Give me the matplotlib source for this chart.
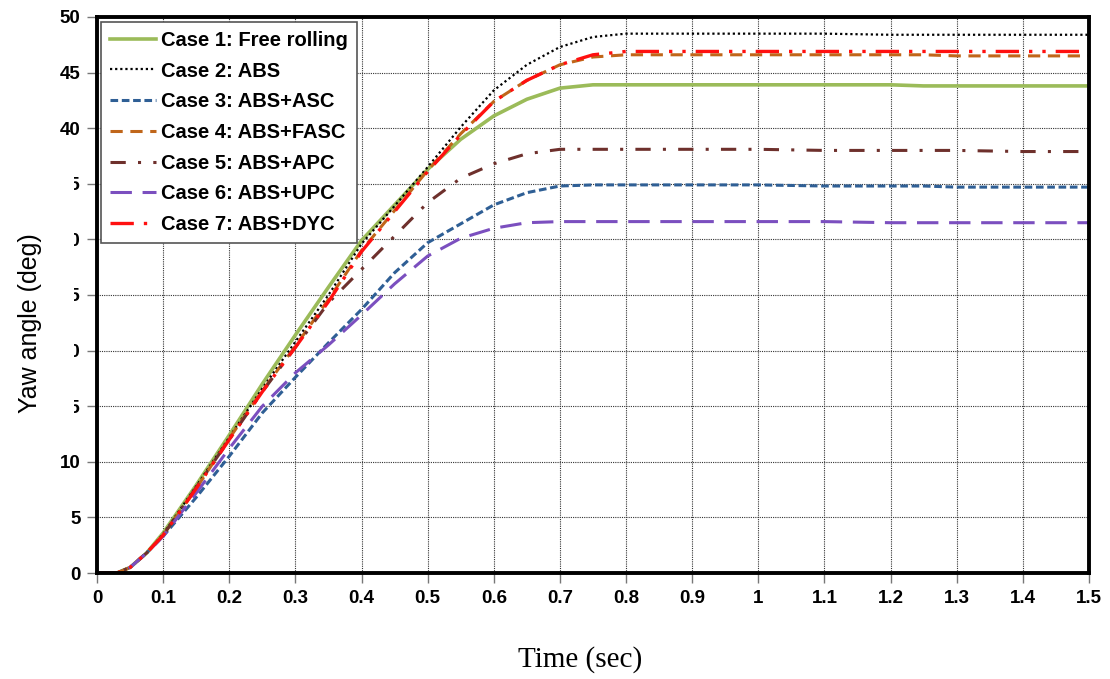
import matplotlib
matplotlib.use("Agg")
from matplotlib import pyplot as plt
from matplotlib.patches import Rectangle

# time axis (sec)
t = [0, 0.03, 0.05, 0.075, 0.1, 0.15, 0.2, 0.25, 0.3, 0.35, 0.4, 0.45, 0.5,
     0.55, 0.6, 0.65, 0.7, 0.75, 0.8, 0.9, 1.0, 1.1, 1.2, 1.25, 1.3, 1.4, 1.5]

# yaw angle (deg)
case1 = [0, 0, 0.5, 1.8, 3.6, 7.9, 12.4, 17.0, 21.4, 25.7, 29.9, 33.1, 36.3,
         39.0, 41.1, 42.6, 43.6, 43.9, 43.9, 43.9, 43.9, 43.9, 43.9, 43.8, 43.8, 43.8, 43.8]
case2 = [0, 0, 0.5, 1.8, 3.5, 7.8, 12.2, 16.6, 20.8, 25.0, 29.6, 33.0, 36.5,
         40.1, 43.4, 45.7, 47.3, 48.2, 48.5, 48.5, 48.5, 48.5, 48.4, 48.4, 48.4, 48.4, 48.4]
case3 = [0, 0, 0.5, 1.8, 3.3, 6.8, 10.5, 14.4, 17.6, 20.7, 23.7, 27.0, 29.7,
         31.4, 33.1, 34.2, 34.8, 34.9, 34.9, 34.9, 34.9, 34.8, 34.8, 34.8, 34.7, 34.7, 34.7]
case4 = [0, 0, 0.5, 1.8, 3.4, 7.6, 12.1, 16.4, 20.4, 24.6, 29.0, 32.6, 36.2,
         39.5, 42.4, 44.3, 45.7, 46.4, 46.6, 46.6, 46.6, 46.6, 46.6, 46.6, 46.5, 46.5, 46.5]
case5 = [0, 0, 0.5, 1.8, 3.4, 7.7, 12.0, 16.3, 20.3, 24.3, 27.3, 30.3, 33.3,
         35.5, 36.8, 37.7, 38.1, 38.1, 38.1, 38.1, 38.1, 38.0, 38.0, 38.0, 38.0, 37.9, 37.9]
case6 = [0, 0, 0.5, 1.8, 3.3, 7.2, 11.2, 15.0, 18.0, 20.5, 23.2, 26.0, 28.5,
         30.1, 31.0, 31.5, 31.6, 31.6, 31.6, 31.6, 31.6, 31.6, 31.5, 31.5, 31.5, 31.5, 31.5]
case7 = [0, 0, 0.5, 1.8, 3.4, 7.6, 12.0, 16.3, 20.3, 24.4, 28.9, 32.5, 36.1,
         39.4, 42.4, 44.3, 45.7, 46.6, 46.9, 46.9, 46.9, 46.9, 46.9, 46.9, 46.9, 46.9, 46.9]

labels = ["Case 1: Free rolling", "Case 2: ABS", "Case 3: ABS+ASC", "Case 4: ABS+FASC",
          "Case 5: ABS+APC", "Case 6: ABS+UPC", "Case 7: ABS+DYC"]

fig = plt.figure(figsize=(11.1, 6.79), dpi=100)
ax = fig.add_axes([0.0874, 0.1561, 0.8936, 0.8189])

ax.plot(t, case1, color="#9BBB59", lw=2.6, label=labels[0])
ax.plot(t, case2, color="black", lw=1.6, dashes=(1, 1.3), label=labels[1])
ax.plot(t, case3, color="#2F5F95", lw=2.2, dashes=(2.5, 1.2), label=labels[2])
ax.plot(t, case4, color="#C0661A", lw=2.2, dashes=(4, 2.5), label=labels[3])
ax.plot(t, case5, color="#6E302C", lw=2.2, dashes=(5, 4, 1, 4), label=labels[4])
ax.plot(t, case6, color="#7B4FBF", lw=2.2, dashes=(7, 3.5), label=labels[5])
ax.plot(t, case7, color="#FF1010", lw=2.4, dashes=(7, 3, 1, 3, 1, 3), label=labels[6])

ax.set_xlim(0, 1.5)
ax.set_ylim(0, 50)
ax.set_xticks([i / 10 for i in range(16)])
ax.set_xticklabels(["0", "0.1", "0.2", "0.3", "0.4", "0.5", "0.6", "0.7", "0.8", "0.9",
                    "1", "1.1", "1.2", "1.3", "1.4", "1.5"])
ax.set_yticks(range(0, 51, 5))
ax.grid(True, color="#333333", lw=0.8, dashes=(1, 1))
ax.tick_params(length=7, width=1, color="#777777", labelsize=13.5, pad=5)
for lab in ax.get_xticklabels() + ax.get_yticklabels():
    lab.set_fontfamily("Liberation Sans")
    lab.set_fontweight("bold")
for s in ax.spines.values():
    s.set_linewidth(2.8)
    s.set_color("black")

leg = ax.legend(loc="upper left", bbox_to_anchor=(0.002, 0.995), fancybox=False,
                framealpha=1, edgecolor="#555555", handlelength=2.3, handletextpad=0.25,
                labelspacing=0.58, borderpad=0.45, borderaxespad=0.1,
                prop={"family": "Liberation Sans", "weight": "bold", "size": 14.5})
leg.get_frame().set_linewidth(1.2)

# white box that hides part of the y tick labels, as in the original
fig.patches.append(Rectangle((0, 1 - 420 / 679), 74 / 1110, 245 / 679,
                             transform=fig.transFigure, facecolor="white",
                             edgecolor="none", zorder=2))
fig.text(30 / 1110, 1 - 323 / 679, "Yaw angle (deg)", rotation=90, ha="center",
         va="center", fontsize=18, family="Liberation Sans", zorder=3)
fig.text(0.523, 1 - 660 / 679, "Time (sec)", ha="center", va="center",
         fontsize=21, family="Liberation Serif")

plt.savefig("out.png", dpi=100)
